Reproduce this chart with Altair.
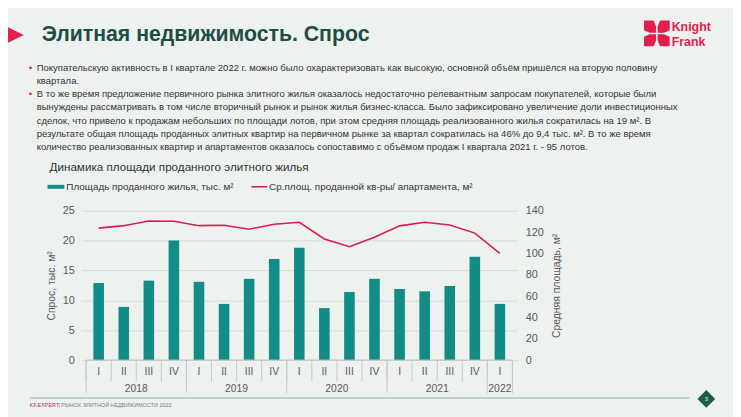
import altair as alt
import pandas as pd

# ---------------- data ----------------
quarters = ["I", "II", "III", "IV", "I", "II", "III", "IV", "I", "II", "III", "IV",
            "I", "II", "III", "IV", "I"]
years = ["2018"] * 4 + ["2019"] * 4 + ["2020"] * 4 + ["2021"] * 4 + ["2022"]
area_sold = [12.9, 8.9, 13.3, 20.0, 13.1, 9.4, 13.6, 16.9, 18.8, 8.7, 11.4, 13.6,
             11.9, 11.5, 12.4, 17.3, 9.4]
avg_size = [123.7, 126.0, 130.4, 130.1, 126.0, 126.4, 122.7, 127.4, 129.2, 113.5, 106.3, 115.1,
            125.8, 129.2, 126.7, 119.0, 100.0]

left_ticks = [0, 5, 10, 15, 20, 25]
right_ticks = [0, 20, 40, 60, 80, 100, 120, 140]

slide_title = "Элитная недвижимость. Спрос"
bullet1 = ["Покупательскую активность в I квартале 2022 г. можно было охарактеризовать как высокую, основной объём пришёлся на вторую половину",
           "квартала."]
bullet2 = ["В то же время предложение первичного рынка элитного жилья оказалось недостаточно релевантным запросам покупателей, которые были",
           "вынуждены рассматривать в том числе вторичный рынок и рынок жилья бизнес-класса. Было зафиксировано увеличение доли инвестиционных",
           "сделок, что привело к продажам небольших по площади лотов, при этом средняя площадь реализованного жилья сократилась на 19 м². В",
           "результате общая площадь проданных элитных квартир на первичном рынке за квартал сократилась на 46% до 9,4 тыс. м². В то же время",
           "количество реализованных квартир и апартаментов оказалось сопоставимо с объёмом продаж I квартала 2021 г. - 95 лотов."]
chart_title = "Динамика площади проданного элитного жилья"
legend_bar = "Площадь проданного жилья, тыс. м²"
legend_line = "Ср.площ. проданной кв-ры/ апартамента, м²"
left_title = "Спрос, тыс. м²"
right_title = "Средняя площадь, м²"
footer_a = "KF.EXPERT"
footer_b = "| РЫНОК ЭЛИТНОЙ НЕДВИЖИМОСТИ 2022"
page_no = "3"

# ---------------- tables ----------------
n = len(quarters)
df = pd.DataFrame({"q": quarters, "year": years, "area": area_sold, "avg": avg_size})
df["i"] = range(n)
df["mid"] = df["i"] + 0.5
yr = df.groupby("year")["i"].agg(["min", "max"]).reset_index()
yr["center"] = (yr["min"] + yr["max"] + 1) / 2
qb = pd.DataFrame({"b": list(df["i"]) + [n]})
yb = pd.DataFrame({"b": list(yr["min"]) + [n]})
base_df = pd.DataFrame({"a": [0], "b": [n]})
one = pd.DataFrame({"k": [0]})

# ---------------- geometry (page px) ----------------
OX, OY = 82, 210.7          # plot origin on page
W, H = 441, 151
BG = "#edf2ef"
TEAL = "#128c86"
RED = "#dc1c50"
GREY = "#595959"
SANS = "Liberation Sans, Arial, sans-serif"

xs = alt.Scale(domain=[0, n], nice=False, zero=False)


def X(field):
    return alt.X(field, scale=xs, axis=None)


bars = alt.Chart(df).mark_bar(size=10.7, color=TEAL).encode(
    x=X("mid:Q"),
    y=alt.Y("area:Q", scale=alt.Scale(domain=[0, 25], nice=False),
            axis=alt.Axis(values=left_ticks, grid=True, gridColor="#d9d9d9", domain=False,
                          ticks=False, labelPadding=7, labelFontSize=11, labelColor=GREY,
                          labelFont=SANS, title=left_title, titleFontSize=10.5,
                          titleFontWeight="normal", titleColor=GREY, titleFont=SANS,
                          titlePadding=6)),
)

line = alt.Chart(df).mark_line(color=RED, strokeWidth=1.6).encode(
    x=X("mid:Q"),
    y=alt.Y("avg:Q", scale=alt.Scale(domain=[0, 140], nice=False),
            axis=alt.Axis(orient="right", values=right_ticks, grid=False, domain=False,
                          ticks=False, labelPadding=8, labelFontSize=11, labelColor=GREY,
                          labelFont=SANS, title=right_title, titleFontSize=10.5,
                          titleFontWeight="normal", titleColor=GREY, titleFont=SANS,
                          titleAngle=270, titleBaseline="top", titlePadding=8)),
)

baseline = alt.Chart(base_df).mark_rule(color="#bfbfbf", strokeWidth=1).encode(
    x=X("a:Q"), x2="b:Q", y=alt.value(H))
qrules = alt.Chart(qb).mark_rule(color="#c9c9c9", strokeWidth=1).encode(
    x=X("b:Q"), y=alt.value(H), y2=alt.value(383.3 - OY))
yrules = alt.Chart(yb).mark_rule(color="#c9c9c9", strokeWidth=1).encode(
    x=X("b:Q"), y=alt.value(H), y2=alt.value(395 - OY))
qlabels = alt.Chart(df).mark_text(fontSize=10.5, color=GREY, font=SANS, baseline="middle").encode(
    x=X("mid:Q"), y=alt.value(374 - OY), text="q:N")
ylabels = alt.Chart(yr).mark_text(fontSize=10.5, color=GREY, font=SANS, baseline="middle").encode(
    x=X("center:Q"), y=alt.value(390.5 - OY), text="year:N")


def txt(text, x, y, **kw):
    opts = dict(align="left", baseline="middle", font=SANS)
    opts.update(kw)
    return alt.Chart(one).mark_text(**opts).encode(
        x=alt.value(x - OX), y=alt.value(y - OY), text=alt.value(text))


def shape(path, x, y, size, color):
    return alt.Chart(one).mark_point(shape=path, filled=True, size=size, color=color,
                                     opacity=1, strokeWidth=0).encode(
        x=alt.value(x - OX), y=alt.value(y - OY))


deco = [
    shape("M-1,-1L1.04,0L-1,1Z", 0, 33, 2116, "#e31d4d"),
    txt(slide_title, 42, 33, fontSize=21.5, fontWeight="bold", color="#1d4d45"),
    shape("M-1,-1L-0.25,-1L-0.06,-0.55L-0.06,-0.06L-0.55,-0.06L-1,-0.25Z"
          "M1,-1L0.25,-1L0.06,-0.55L0.06,-0.06L0.55,-0.06L1,-0.25Z"
          "M-1,1L-0.25,1L-0.06,0.55L-0.06,0.06L-0.55,0.06L-1,0.25Z"
          "M1,1L0.25,1L0.06,0.55L0.06,0.06L0.55,0.06L1,0.25Z",
          664, 31.5, 676, "#e31d4d"),
    txt("Knight", 679, 25, fontSize=12.5, fontWeight="bold", color="#e31d4d"),
    txt("Frank", 679, 40, fontSize=12.5, fontWeight="bold", color="#e31d4d"),
    txt("•", 29, 66, fontSize=10, color="#e31d4d"),
    txt(bullet1, 37, 66, fontSize=9.6, lineHeight=13.3, color="#333333"),
    txt("•", 29, 93, fontSize=10, color="#e31d4d"),
    txt(bullet2, 37, 93, fontSize=9.6, lineHeight=13.3, color="#333333"),
    txt(chart_title, 50, 167, fontSize=11.8, color="#333333"),
    alt.Chart(one).mark_rect(color=TEAL).encode(
        x=alt.value(48 - OX), x2=alt.value(65 - OX), y=alt.value(184.5 - OY), y2=alt.value(188.5 - OY)),
    txt(legend_bar, 67, 186.5, fontSize=10, color="#333333"),
    alt.Chart(one).mark_rule(color=RED, strokeWidth=1.6).encode(
        x=alt.value(254 - OX), x2=alt.value(270 - OX), y=alt.value(186.5 - OY)),
    txt(legend_line, 272, 186.5, fontSize=10, color="#333333"),
    alt.Chart(one).mark_rule(color="#8fb0a6", strokeWidth=1).encode(
        x=alt.value(30 - OX), x2=alt.value(697 - OX), y=alt.value(400 - OY)),
    shape("diamond", 714, 401, 324, "#1d5a50"),
    txt(page_no, 714, 401, fontSize=6, color="white", align="center"),
    txt(footer_a, 30, 407, fontSize=5.5, color="#e31d4d"),
    txt(footer_b, 59, 407, fontSize=5.5, color="#7f7f7f"),
]

chart = alt.layer(bars, line, baseline, qrules, yrules, qlabels, ylabels, *deco).resolve_scale(
    y="independent"
).properties(
    width=W, height=H,
    padding={"left": OX - 8, "top": OY - 8, "right": 733 - (OX - 8) - W, "bottom": 409 - (OY - 8) - H},
    autosize=alt.AutoSizeParams(type="none"),
).configure(background=BG).configure_view(stroke=None)

chart.save("out.html", embed_options={"renderer": "svg", "actions": False})
